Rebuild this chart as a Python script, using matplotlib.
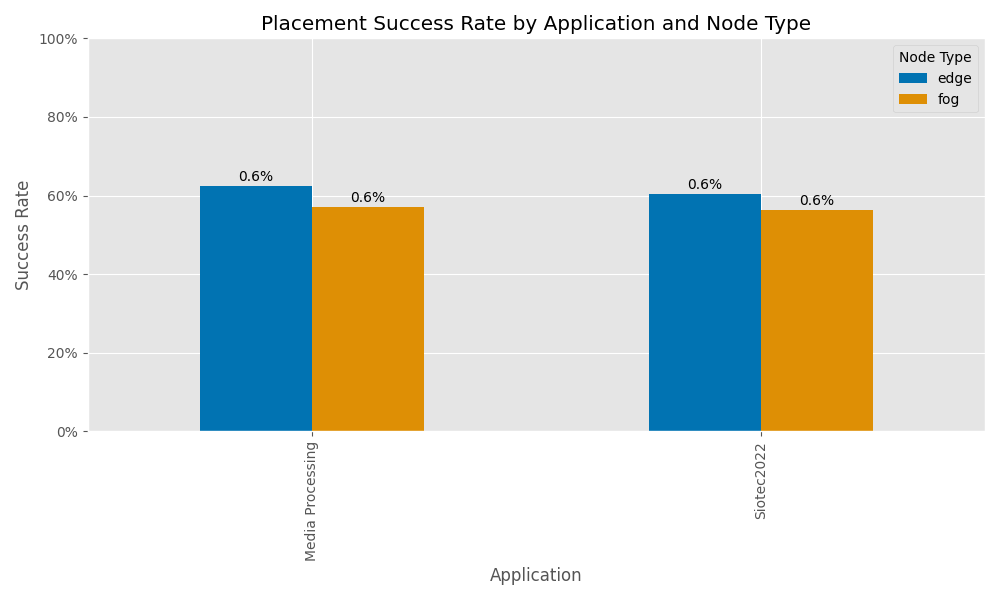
import numpy as np
import matplotlib
matplotlib.use("Agg")
from matplotlib import pyplot as plt
from matplotlib.ticker import PercentFormatter

plt.style.use('ggplot')

# data
applications = ['Media Processing', 'Siotec2022']
node_types = ['edge', 'fog']
edge_rate = [0.625, 0.605]
fog_rate = [0.571, 0.564]
colors = ['#0173b2', '#de8f05']

fig, ax = plt.subplots(figsize=(10, 6), dpi=100)

x = np.arange(len(applications))
width = 0.25
for i, (vals, name) in enumerate(zip([edge_rate, fog_rate], node_types)):
    bars = ax.bar(x + (i - 0.5) * width, vals, width, color=colors[i], label=name)
    ax.bar_label(bars, fmt='%.1f%%', padding=1.5)

ax.set_xticks(x)
ax.set_xticklabels(applications, rotation=90)
ax.set_xlim(-0.5, len(applications) - 0.5)
ax.set_ylim(0, 1)
ax.yaxis.set_major_formatter(PercentFormatter(1.0, decimals=0))

ax.set_title('Placement Success Rate by Application and Node Type')
ax.set_xlabel('Application')
ax.set_ylabel('Success Rate')
ax.legend(title='Node Type', loc='upper right')

plt.tight_layout()
plt.savefig('out.png')
